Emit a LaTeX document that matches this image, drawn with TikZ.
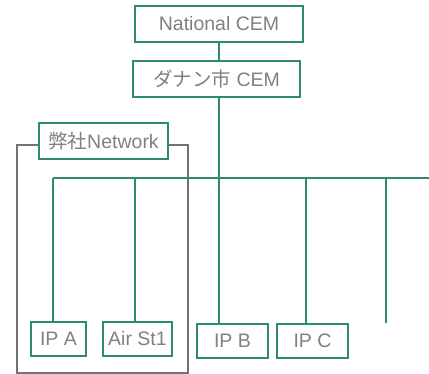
\documentclass[tikz,border=0pt]{standalone}
\usepackage{fontspec}
\setmainfont{Liberation Sans}
\newfontfamily\cjk{Noto Sans CJK JP}
\definecolor{boxgreen}{HTML}{2E8B6F}
\definecolor{txtgray}{HTML}{808080}
\definecolor{brgray}{HTML}{6E7378}
\begin{document}
\begin{tikzpicture}[x=1pt,y=-1pt,
  box/.style={draw=boxgreen,line width=1.8pt,fill=white,text=txtgray,
    font=\fontsize{19.5}{22}\selectfont,inner sep=0pt,anchor=center},
  link/.style={draw=boxgreen,line width=1.6pt},
  bracket/.style={draw=brgray,line width=1.4pt}]
\useasboundingbox (0,0) rectangle (429,374);
% bracket around own network
\node[box,minimum width=129,minimum height=36] (net) at (103.5,141) {{\cjk 弊社}Network};
\draw[bracket] ([yshift=-4pt]net.west) -- (17,145) -- (17,373) -- (188,373) -- (188,145) -- ([yshift=-4pt]net.east);
% top boxes
\node[box,minimum width=168,minimum height=36] (nat) at (219,24) {National CEM};
\node[box,minimum width=167,minimum height=36] (dan) at (216.5,79) {{\cjk ダナン市} CEM};
% bottom boxes
\node[box,minimum width=55,minimum height=34] (ipa) at (58.5,339) {IP A};
\node[box,minimum width=69,minimum height=34] (air) at (137.5,339) {Air St1};
\node[box,minimum width=71,minimum height=34] (ipb) at (232.5,341) {IP B};
\node[box,minimum width=71,minimum height=34] (ipc) at (312.5,341) {IP C};
% bus coordinates
\coordinate (b1) at (53,178);
\coordinate (b2) at (135,178);
\coordinate (b3) at (219,178);
\coordinate (b4) at (306,178);
\coordinate (b5) at (386,178);
\coordinate (bR) at (429,178);
\coordinate (e5) at (386,323);
% connectors
\draw[link] (nat.south -| 219,0) -- (dan.north -| 219,0);
\draw[link] (dan.south -| b3) -- (ipb.north -| b3);
\draw[link] (b1) -- (bR);
\draw[link] (b1) -- (ipa.north -| b1);
\draw[link] (b2) -- (air.north -| b2);
\draw[link] (b4) -- (ipc.north -| b4);
\draw[link] (b5) -- (e5);
\end{tikzpicture}
\end{document}
